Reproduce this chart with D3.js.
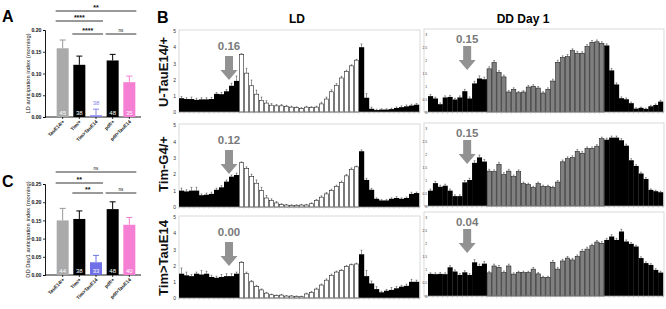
<!DOCTYPE html>
<html><head><meta charset="utf-8">
<script src="https://cdn.jsdelivr.net/npm/d3@7"></script>
<style>
body{margin:0;background:#fff}
svg{display:block}
text{font-family:Arial,"Liberation Sans",sans-serif}
</style>
</head><body>
<svg id="c" width="666" height="309"></svg>
<script>
// ---------- DATA ----------
const groups = ["TauE14/+", "Tim/+", "Tim>TauE14", "pdf/+", "pdf>TauE14"];
const groupColors = ["#aaaaaa", "#000000", "#8585e6", "#000000", "#f57fd2"];
const groupColorsC = ["#aaaaaa", "#000000", "#6f6fe8", "#000000", "#f57fd2"];
const ldIndex = [0.158, 0.120, 0.004, 0.130, 0.080];
const ldIndexErr = [0.019, 0.020, 0.014, 0.014, 0.014];
const ldN = [45, 38, 38, 48, 35];
const ddIndex = [0.150, 0.154, 0.035, 0.181, 0.138];
const ddIndexErr = [0.033, 0.022, 0.019, 0.020, 0.020];
const ddN = [44, 38, 33, 48, 40];
const ticksA = [0, 0.05, 0.10, 0.15, 0.20];
const ticksC = [0, 0.05, 0.10, 0.15, 0.20, 0.25];
const sigA = [[0, 4, "**", 0], [0, 2, "****", 1], [1, 2, "****", 2], [3, 4, "ns", 2]];
const sigC = [[0, 4, "ns", 0], [0, 2, "**", 1], [1, 2, "**", 2], [3, 4, "ns", 2]];

const genotypes = ["U-TauE14/+", "Tim-G4/+", "Tim>TauE14"];
const ldAnticipation = ["0.16", "0.12", "0.00"];
const ddAnticipation = ["0.15", "0.15", "0.04"];
const ldTicks = [0, 1, 2, 3, 4, 5];
const ddTicks = [0, 0.5, 1, 1.5, 2, 2.5, 3];

const ld1 = [0.85,0.8,0.8,0.75,0.78,0.78,0.8,1.12,1.1,1.28,1.62,1.92,
  3.55,2.4,1.62,1.1,0.72,0.55,0.42,0.38,0.38,0.35,0.3,0.27,0.22,0.3,0.28,0.3,0.5,0.8,1.25,1.65,2.1,2.5,2.85,3.2,
  4.0,0.88,0.2,0.12,0.15,0.15,0.18,0.25,0.3,0.35,0.4,0.45];
const ld1Err = [0.1,0.08,0.12,0.1,0.1,0.1,0.1,0.08,0.1,0.1,0.15,0.3,
  0.06,0.3,0.35,0.25,0.2,0.15,0.1,0.08,0.08,0.06,0.06,0.05,0.05,0.05,0.05,0.06,0.1,0.12,0.12,0.1,0.1,0.08,0.06,0.05,
  0.2,0.25,0.1,0.05,0.05,0.05,0.06,0.06,0.08,0.08,0.08,0.08];
const ld2 = [1.0,0.95,1.0,1.0,0.72,0.75,0.8,1.05,1.2,1.55,1.85,1.95,
  2.7,2.35,1.85,1.45,1.0,0.55,0.4,0.25,0.15,0.12,0.1,0.1,0.12,0.12,0.2,0.4,0.6,0.8,1.0,1.25,1.5,1.9,2.3,2.45,
  3.4,1.65,1.05,0.5,0.4,0.4,0.5,0.55,0.5,0.55,0.8,0.85];
const ld2Err = [0.15,0.1,0.2,0.2,0.08,0.1,0.1,0.1,0.1,0.1,0.1,0.12,
  0.05,0.1,0.15,0.2,0.2,0.15,0.1,0.08,0.05,0.04,0.04,0.04,0.04,0.04,0.05,0.06,0.08,0.08,0.08,0.08,0.08,0.08,0.08,0.05,
  0.08,0.1,0.08,0.06,0.05,0.05,0.06,0.08,0.06,0.06,0.1,0.06];
const ld3 = [1.5,1.4,1.35,1.5,1.45,1.5,1.3,1.25,1.3,1.35,1.35,1.5,
  2.2,1.5,1.0,0.7,0.5,0.3,0.2,0.15,0.18,0.12,0.12,0.1,0.08,0.25,0.35,0.55,0.8,1.1,1.4,1.6,1.7,1.95,2.05,2.1,
  2.7,1.35,0.9,0.55,0.35,0.45,0.5,0.6,0.7,0.75,1.0,1.0];
const ld3Err = [0.35,0.2,0.1,0.1,0.25,0.15,0.1,0.1,0.15,0.15,0.15,0.1,
  0.05,0.1,0.08,0.08,0.06,0.05,0.04,0.04,0.04,0.03,0.03,0.03,0.03,0.05,0.05,0.06,0.06,0.08,0.08,0.06,0.05,0.05,0.05,0.05,
  0.25,0.35,0.15,0.15,0.06,0.08,0.15,0.1,0.08,0.1,0.15,0.1];
const dd1 = [0.61,0.52,0.3,0.56,0.58,0.48,0.56,0.8,0.52,1.1,1.29,1.26,
  1.66,1.9,1.52,1.35,0.77,0.87,0.74,0.77,0.96,0.99,0.92,0.73,0.87,1.19,1.91,2.09,2.13,2.36,2.26,2.26,2.52,2.68,2.7,2.64,
  2.56,1.6,1.06,0.53,0.49,0.34,0.13,0.16,0.12,0.22,0.27,0.4];
const dd1Err = [0.06,0.05,0.05,0.06,0.06,0.05,0.06,0.07,0.06,0.08,0.1,0.08,
  0.08,0.08,0.07,0.07,0.06,0.06,0.05,0.05,0.06,0.06,0.06,0.05,0.06,0.07,0.08,0.07,0.08,0.07,0.07,0.06,0.07,0.07,0.07,0.06,
  0.06,0.07,0.06,0.05,0.05,0.04,0.03,0.03,0.03,0.04,0.04,0.05];
const dd2 = [0.59,0.88,0.74,0.78,0.59,0.38,0.38,0.91,1.0,1.66,1.87,1.71,
  1.34,1.32,1.6,1.21,1.34,1.13,1.32,0.86,0.82,0.71,0.86,0.75,0.75,0.71,0.92,1.7,1.82,1.86,2.1,2.03,2.21,2.21,2.3,2.59,
  2.55,2.63,2.63,2.53,2.32,1.76,1.54,1.25,1.04,0.62,0.57,0.53];
const dd2Err = [0.06,0.07,0.06,0.06,0.06,0.05,0.05,0.07,0.07,0.08,0.09,0.08,
  0.07,0.07,0.08,0.07,0.07,0.06,0.07,0.06,0.06,0.05,0.06,0.05,0.05,0.05,0.06,0.07,0.07,0.07,0.07,0.07,0.06,0.06,0.06,0.06,
  0.06,0.06,0.06,0.06,0.06,0.06,0.05,0.05,0.05,0.04,0.04,0.04];
const dd3 = [0.84,0.83,0.84,0.83,1.09,0.93,0.8,0.9,0.8,1.28,1.14,1.23,
  0.88,1.14,1.09,0.89,1.14,0.83,0.89,0.89,0.89,1.02,0.84,0.71,0.71,1.28,1.02,1.33,1.44,1.37,1.5,1.7,1.78,1.91,2.05,2.0,
  2.13,2.26,2.13,2.45,2.07,1.98,1.88,1.44,1.25,1.18,0.99,0.89];
const dd3Err = [0.04,0.05,0.05,0.05,0.06,0.06,0.05,0.06,0.05,0.1,0.07,0.08,
  0.06,0.07,0.07,0.06,0.07,0.05,0.05,0.05,0.05,0.06,0.05,0.04,0.04,0.07,0.06,0.06,0.06,0.06,0.06,0.07,0.07,0.06,0.06,0.06,
  0.06,0.07,0.06,0.08,0.06,0.05,0.05,0.05,0.05,0.05,0.05,0.05];

// ---------- DRAW ----------
const svg = d3.select("#c");
svg.append("rect").attr("width", 666).attr("height", 309).attr("fill", "#fff");

function barChart(o) {
  const g = svg.append("g");
  const x = d3.scaleBand().domain(groups).range([52, 140]).padding(0.28);
  const y = d3.scaleLinear().domain([0, o.yMax]).range([o.base, o.top]);
  const ax = g.append("g").attr("transform", "translate(45,0)")
    .call(d3.axisLeft(y).tickValues(o.ticks).tickFormat(d3.format(".2f")).tickSize(2).tickPadding(1.5));
  ax.select(".domain").attr("stroke", "#000").attr("stroke-width", 0.9);
  ax.selectAll(".tick line").attr("stroke", "#000").attr("stroke-width", 0.8);
  ax.selectAll("text").attr("font-size", 5.2).attr("font-weight", "bold").attr("fill", "#111");
  g.append("line").attr("x1", 45).attr("x2", 141).attr("y1", o.base).attr("y2", o.base)
    .attr("stroke", "#000").attr("stroke-width", 0.9);
  groups.forEach((k, i) => {
    const cx = x(k) + x.bandwidth() / 2;
    g.append("line").attr("x1", cx).attr("x2", cx).attr("y1", o.base).attr("y2", o.base + 2)
      .attr("stroke", "#000").attr("stroke-width", 0.8);
  });
  groups.forEach((k, i) => {
    const cx = x(k) + x.bandwidth() / 2;
    const col = o.colors[i] === "#aaaaaa" ? "#999" : o.colors[i];
    const ye = y(o.vals[i] + o.errs[i]);
    g.append("line").attr("x1", cx).attr("x2", cx).attr("y1", y(o.vals[i])).attr("y2", ye)
      .attr("stroke", col).attr("stroke-width", 1);
    g.append("line").attr("x1", cx - 3).attr("x2", cx + 3).attr("y1", ye).attr("y2", ye)
      .attr("stroke", col).attr("stroke-width", 1);
  });
  g.selectAll("rect.bar").data(o.vals).join("rect")
    .attr("x", (d, i) => x(groups[i])).attr("width", x.bandwidth())
    .attr("y", d => y(d)).attr("height", d => o.base - y(d))
    .attr("fill", (d, i) => o.colors[i]);
  o.vals.forEach((d, i) => {
    const cx = x(groups[i]) + x.bandwidth() / 2;
    const short = o.base - y(d) < 8;
    g.append("text").attr("x", cx).attr("y", short ? o.base - 12 : o.base - 1.8)
      .attr("text-anchor", "middle").attr("font-size", 6)
      .attr("fill", short ? o.colors[i] : "#fff").text(o.ns[i]);
  });
  groups.forEach((k, i) => {
    const cx = x(k) + x.bandwidth() / 2 + 2;
    g.append("text").attr("transform", `translate(${cx},${o.base + 5}) rotate(-45)`)
      .attr("text-anchor", "end").attr("font-size", 4.8).attr("font-weight", "bold").attr("fill", "#111").text(k);
  });
  g.append("text").attr("transform", `translate(30,${(o.top + o.base) / 2}) rotate(-90)`)
    .attr("text-anchor", "middle").attr("font-size", 5.8).attr("fill", "#111").text(o.ylabel);
  o.sigs.forEach(s => {
    const x1 = x(groups[s[0]]), x2 = x(groups[s[1]]) + x.bandwidth();
    const ly = o.sigY[s[3]];
    g.append("line").attr("x1", x1 - 1).attr("x2", x2 + 1).attr("y1", ly).attr("y2", ly)
      .attr("stroke", "#000").attr("stroke-width", 0.8);
    const isNs = s[2] === "ns";
    g.append("text").attr("x", (x1 + x2) / 2).attr("y", isNs ? ly - 2.5 : ly - 1)
      .attr("text-anchor", "middle").attr("font-size", isNs ? 4.5 : 7)
      .attr("font-weight", isNs ? "normal" : "bold").attr("fill", "#111").text(s[2]);
  });
  g.append("text").attr("x", 2).attr("y", o.letterY).attr("font-size", 16).attr("font-weight", "bold").text(o.letter);
}

barChart({vals: ldIndex, errs: ldIndexErr, ns: ldN, yMax: 0.2, ticks: ticksA, top: 30, base: 117,
  colors: groupColors, ylabel: "LD anticipation index (morning)", sigs: sigA, sigY: [11, 21, 34], letter: "A", letterY: 22});
barChart({vals: ddIndex, errs: ddIndexErr, ns: ddN, yMax: 0.25, ticks: ticksC, top: 184, base: 275,
  colors: groupColorsC, ylabel: "DD Day1 anticipation index (morning)", sigs: sigC, sigY: [172, 183, 193], letter: "C", letterY: 187});

svg.append("text").attr("x", 157).attr("y", 23).attr("font-size", 16).attr("font-weight", "bold").text("B");
svg.append("text").attr("x", 297).attr("y", 23).attr("text-anchor", "middle").attr("font-size", 12).attr("font-weight", "bold").text("LD");
svg.append("text").attr("x", 523).attr("y", 23).attr("text-anchor", "middle").attr("font-size", 12).attr("font-weight", "bold").text("DD Day 1");

function profile(o) {
  const g = svg.append("g");
  const bins = d3.range(o.vals.length);
  const x = d3.scaleBand().domain(bins).range([o.x0, o.x1]);
  const y = d3.scaleLinear().domain([0, o.yMax]).range([o.base, o.top]);
  g.append("rect").attr("x", o.boxX).attr("y", o.top - o.boxPad).attr("width", o.x1 - o.boxX + 1)
    .attr("height", o.base - o.top + o.boxPad).attr("fill", "none").attr("stroke", "#d0d0d0").attr("stroke-width", 0.8);
  const ax = g.append("g").attr("transform", `translate(${o.boxX},0)`)
    .call(d3.axisLeft(y).tickValues(o.ticks).tickFormat(d3.format("~g")).tickSize(0).tickPadding(o.tickPad));
  ax.select(".domain").remove();
  ax.selectAll("text").attr("font-size", o.tickFont).attr("fill", "#333");
  const light = i => i >= 12 && i < 36;
  bins.forEach(i => {
    const cx = x(i) + x.bandwidth() / 2;
    const y1 = y(o.vals[i]), y2 = y(o.vals[i] + o.errs[i]);
    g.append("line").attr("x1", cx).attr("x2", cx).attr("y1", y1).attr("y2", y2).attr("stroke", "#333").attr("stroke-width", 0.5);
    g.append("line").attr("x1", cx - 0.9).attr("x2", cx + 0.9).attr("y1", y2).attr("y2", y2).attr("stroke", "#333").attr("stroke-width", 0.5);
  });
  g.selectAll("rect.b").data(o.vals).join("rect")
    .attr("x", (d, i) => x(i) + (light(i) ? 0.3 : 0)).attr("width", (d, i) => x.bandwidth() - (light(i) ? 0.6 : -0.2))
    .attr("y", d => y(d)).attr("height", d => o.base - y(d))
    .attr("fill", (d, i) => light(i) ? o.lightFill : "#000")
    .attr("stroke", (d, i) => light(i) ? "#222" : "none").attr("stroke-width", 0.6);
  g.append("line").attr("x1", o.boxX).attr("x2", o.x1 + 1).attr("y1", o.base).attr("y2", o.base).attr("stroke", "#999").attr("stroke-width", 0.7);
  bins.concat([o.vals.length]).forEach(i => {
    const tx = i < o.vals.length ? x(i) : o.x1;
    g.append("line").attr("x1", tx).attr("x2", tx).attr("y1", o.base).attr("y2", o.base + 1.8).attr("stroke", "#aaa").attr("stroke-width", 0.5);
  });
  const ax0 = x(o.arrowBin);
  const aTop = o.top + o.arrowOff[1], aTip = o.top + o.arrowOff[2], aHead = aTip - 10;
  g.append("path").attr("d", `M${ax0 - 4},${aTop}H${ax0 + 4}V${aHead}H${ax0 + 8.5}L${ax0},${aTip}L${ax0 - 8.5},${aHead}H${ax0 - 4}Z`)
    .attr("fill", "#929292");
  g.append("text").attr("x", ax0).attr("y", o.top + o.arrowOff[0]).attr("text-anchor", "middle")
    .attr("font-size", 11.5).attr("font-weight", "bold").attr("fill", "#7a7a7a").text(o.label);
}

const ldRows = [[ld1, ld1Err], [ld2, ld2Err], [ld3, ld3Err]];
const ddRows = [[dd1, dd1Err], [dd2, dd2Err], [dd3, dd3Err]];
const ldGeom = [[31, 112], [125, 207], [217, 298]];
const ddGeom = [[34, 112], [128, 206], [217, 296]];

ldRows.forEach((r, k) => profile({vals: r[0], errs: r[1], x0: 179, x1: 419, boxX: 179, boxPad: 1, top: ldGeom[k][0], base: ldGeom[k][1],
  yMax: 5, ticks: ldTicks, tickFont: 5, tickPad: 3, lightFill: "#fff", arrowBin: 10, arrowOff: [19, 25, 49], label: ldAnticipation[k]}));
ddRows.forEach((r, k) => profile({vals: r[0], errs: r[1], x0: 428, x1: 663, boxX: 424, boxPad: 5, top: ddGeom[k][0], base: ddGeom[k][1],
  yMax: 3, ticks: ddTicks, tickFont: 3.3, tickPad: -3, lightFill: "#808080", arrowBin: 8, arrowOff: [9, 12, 36], label: ddAnticipation[k]}));

const rowCenters = [72, 164, 258];
genotypes.forEach((t, k) => {
  svg.append("text").attr("transform", `translate(168,${rowCenters[k]}) rotate(-90)`)
    .attr("text-anchor", "middle").attr("font-size", 13).attr("font-weight", "bold").attr("fill", "#111").text(t);
});
</script>
</body></html>
